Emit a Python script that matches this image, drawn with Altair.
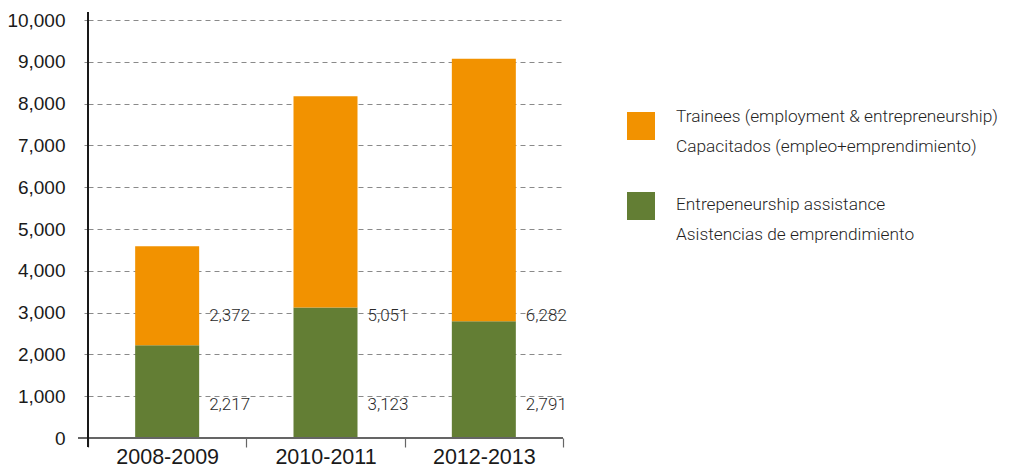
import altair as alt
import pandas as pd

periods = ["2008-2009", "2010-2011", "2012-2013"]
assistance = [2217, 3123, 2791]
trainees = [2372, 5051, 6282]
series_en = ["Trainees (employment & entrepreneurship)", "Entrepeneurship assistance"]
series_es = ["Capacitados (empleo+emprendimiento)", "Asistencias de emprendimiento"]
colors = ["#F29200", "#637E34"]
y_ticks = list(range(0, 10001, 1000))

rows = []
for p, a, t in zip(periods, assistance, trainees):
    rows.append({"period": p, "series": series_en[1], "value": a, "order": 0})
    rows.append({"period": p, "series": series_en[0], "value": t, "order": 1})
df = pd.DataFrame(rows)

W, H = 475, 418
GRID = "#8a8a8a"
AXIS_FONT = "Liberation Sans"
LABEL_FONT = "Roboto"

color_scale = alt.Scale(domain=series_en, range=colors)
y_scale = alt.Scale(domain=[0, 10000], nice=False)

x_enc = alt.X(
    "period:N", sort=periods, title=None,
    scale=alt.Scale(paddingInner=0, paddingOuter=0),
    axis=alt.Axis(
        domain=False, tickBand="extent", tickSize=9, tickColor="#666",
        tickWidth=1.2, labelFontSize=21.5, labelFont=AXIS_FONT,
        labelColor="#1a1a1a", labelPadding=-1, labelAngle=0, grid=False,
    ),
)
y_axis = alt.Axis(
    values=y_ticks, labelExpr="format(datum.value, ',')", domain=False, grid=True,
    gridDash=[5, 4], gridColor=GRID, gridWidth=1,
    tickSize=10, tickDash=[4, 6], tickColor=GRID,
    labelFontSize=19, labelFont=AXIS_FONT, labelColor="#1a1a1a",
    labelPadding=13,
)
y_enc = alt.Y("value:Q", stack="zero", title=None, scale=y_scale, axis=y_axis)

bars = alt.Chart(df).mark_bar(size=64).encode(
    x=x_enc,
    y=y_enc,
    color=alt.Color("series:N", scale=color_scale, legend=None),
    order=alt.Order("order:Q"),
)

text_style = dict(align="left", baseline="middle", dx=42, font=LABEL_FONT,
                  fontSize=17, fontWeight=300, color="#2a2a2a")

lab_top = alt.Chart(df).transform_filter(
    alt.datum.series == series_en[0]
).mark_text(**text_style).encode(
    x=alt.X("period:N", sort=periods),
    y=alt.Y(datum=2930, type="quantitative", scale=y_scale, axis=y_axis, title=None),
    text=alt.Text("value:Q", format=","),
)
lab_bot = alt.Chart(df).transform_filter(
    alt.datum.series == series_en[1]
).mark_text(**text_style).encode(
    x=alt.X("period:N", sort=periods),
    y=alt.Y(datum=780, type="quantitative", scale=y_scale, axis=y_axis, title=None),
    text=alt.Text("value:Q", format=","),
)

y_line = alt.Chart(df).mark_rule(color="#1a1a1a", strokeWidth=1.5).encode(
    x=alt.value(0), y=alt.value(-8), y2=alt.value(H + 9)
)
x_line = alt.Chart(df).mark_rule(color="#666", strokeWidth=1.5).encode(
    x=alt.value(-10), x2=alt.value(W), y=alt.value(H)
)

legend_layers = []
for i, (en, es) in enumerate(zip(series_en, series_es)):
    ldf = pd.DataFrame({"series": [en], "en": [en], "es": [es]})
    sym_top = 92 + i * 80
    txt_base = 102 + i * 88
    sym = alt.Chart(ldf).mark_rect().encode(
        x=alt.value(539), x2=alt.value(567),
        y=alt.value(sym_top), y2=alt.value(sym_top + 28),
        color=alt.Color("series:N", scale=color_scale, legend=None),
    )
    t1 = alt.Chart(ldf).mark_text(
        align="left", baseline="alphabetic", font=LABEL_FONT, fontSize=17.3,
        fontWeight=300, color="#1f1f1f",
    ).encode(x=alt.value(588), y=alt.value(txt_base), text="en:N")
    t2 = alt.Chart(ldf).mark_text(
        align="left", baseline="alphabetic", font=LABEL_FONT, fontSize=17.3,
        fontWeight=300, color="#1f1f1f",
    ).encode(x=alt.value(588), y=alt.value(txt_base + 30), text="es:N")
    legend_layers += [sym, t1, t2]

chart = alt.layer(bars, lab_top, lab_bot, x_line, y_line, *legend_layers).properties(
    width=W, height=H,
    autosize=alt.AutoSizeParams(type="none"),
    padding={"left": 80, "top": 12, "right": 441, "bottom": 29},
    background="white",
).configure_view(stroke=None)

chart.save("out.html", embed_options={"renderer": "svg", "actions": False})
